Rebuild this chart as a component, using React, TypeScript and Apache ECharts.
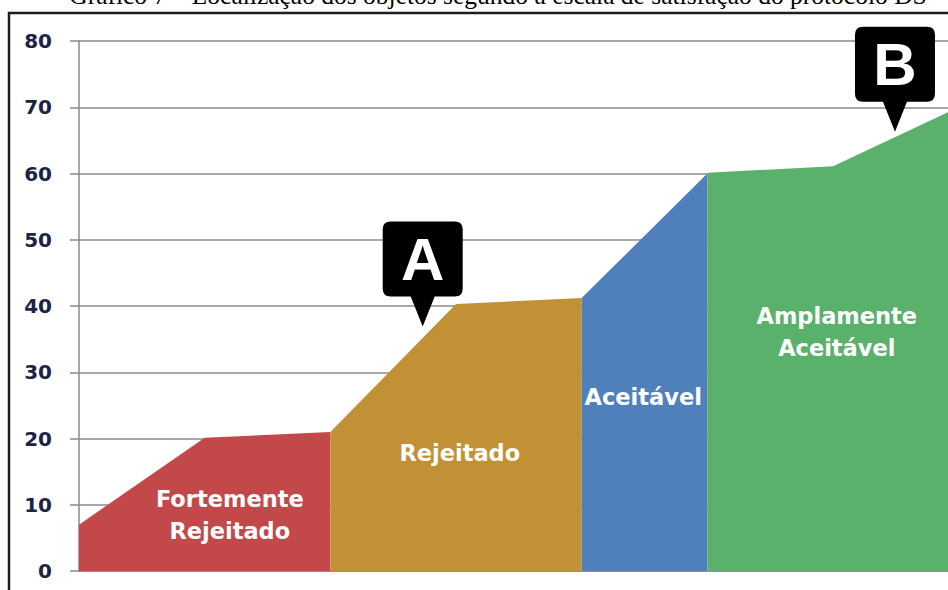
import React, { useEffect, useRef } from "react";
import * as echarts from "echarts";

const titleText =
  "Gráfico 7 – Localização dos objetos segundo a escala de satisfação do protocolo DS";

// Category positions (x) and satisfaction values (y) per zone
const redX = [0, 1, 2];
const redY = [7, 20.1, 21];
const goldX = [2, 3, 4];
const goldY = [21, 40.3, 41.2];
const blueX = [4, 5];
const blueY = [41.2, 60];
const greenX = [5, 6, 7];
const greenY = [60.1, 61.1, 70];

const zoneNames = ["Fortemente\nRejeitado", "Rejeitado", "Aceitável", "Amplamente\nAceitável"];
const zoneColors = ["#c3484a", "#c29136", "#4f80bc", "#5ab16b"];
// label anchor points (data coordinates)
const zoneLabelX = [1.2, 3.03, 4.49, 6.03];
const zoneLabelY = [8.5, 17.8, 26.2, 36.1];

const markerNames = ["A", "B"];
const markerX = [2.735, 6.493];
const markerY = [36.9, 66.3];

const yMin = 0;
const yMax = 80;
const yInterval = 10;
const xMax = 6.915;

const calloutPath =
  "path://M8,0 H72 Q80,0 80,8 V67 Q80,75 72,75 H52 L40,105 L28,75 H8 Q0,75 0,67 V8 Q0,0 8,0 Z";

export default function App() {
  const ref = useRef<HTMLDivElement>(null);

  useEffect(() => {
    if (!ref.current) return;
    const chart = echarts.init(ref.current, null, { renderer: "svg" });

    const zip = (xs: number[], ys: number[]) => xs.map((x, i) => [x, ys[i]]);
    const zones = [zip(redX, redY), zip(goldX, goldY), zip(blueX, blueY), zip(greenX, greenY)];

    const series: any[] = zones.map((data, i) => ({
      type: "line",
      data,
      showSymbol: false,
      symbol: "none",
      lineStyle: { width: 0 },
      areaStyle: { color: zoneColors[i], opacity: 1 },
      itemStyle: { color: zoneColors[i] },
      silent: true,
      z: 2,
      markPoint: {
        silent: true,
        symbol: "circle",
        symbolSize: 0,
        data: [
          {
            coord: [zoneLabelX[i], zoneLabelY[i]],
            value: zoneNames[i],
            label: {
              show: true,
              position: "inside",
              formatter: zoneNames[i],
              color: "#ffffff",
              fontFamily: "DejaVu Sans",
              fontWeight: "bold",
              fontSize: 22.5,
              lineHeight: 32,
              align: "center",
            },
          },
        ],
      },
    }));

    series.push({
      type: "line",
      data: [],
      silent: true,
      markPoint: {
        silent: true,
        symbol: calloutPath,
        symbolSize: [80, 105],
        symbolOffset: [0, -52.5],
        itemStyle: { color: "#000000" },
        z: 10,
        data: markerNames.map((n, i) => ({
          coord: [markerX[i], markerY[i]],
          value: n,
          label: {
            show: true,
            position: "inside",
            formatter: n,
            offset: [0, -15],
            color: "#ffffff",
            fontFamily: "Liberation Sans",
            fontWeight: "bold",
            fontSize: 60,
          },
        })),
      },
    });

    chart.setOption({
      animation: false,
      backgroundColor: "#ffffff",
      grid: {
        left: 79,
        right: 0,
        top: 41,
        bottom: 19,
        containLabel: false,
        outerBoundsMode: "none",
      },
      xAxis: {
        type: "value",
        min: 0,
        max: xMax,
        axisLine: { show: true, lineStyle: { color: "#8a8a8a", width: 1.5 } },
        axisTick: { show: false },
        axisLabel: { show: false },
        splitLine: { show: false },
      },
      yAxis: {
        type: "value",
        min: yMin,
        max: yMax,
        interval: yInterval,
        axisLine: { show: true, lineStyle: { color: "#8a8a8a", width: 1.5 } },
        axisTick: { show: true, length: 9, lineStyle: { color: "#8a8a8a", width: 1.5 } },
        axisLabel: {
          margin: 27,
          color: "#1b2346",
          fontFamily: "DejaVu Sans",
          fontWeight: "bold",
          fontSize: 20,
        },
        splitLine: { show: true, lineStyle: { color: "#8a8a8a", width: 1.5 } },
      },
      graphic: [
        {
          type: "text",
          x: 498,
          y: -5,
          silent: true,
          style: {
            text: titleText,
            fill: "#000000",
            font: "25.5px 'Liberation Serif'",
            align: "center",
            verticalAlign: "middle",
          },
        },
        {
          type: "rect",
          silent: true,
          shape: { x: 9, y: 13, width: 1200, height: 1200 },
          style: { fill: "none", stroke: "#1e1e1e", lineWidth: 2.5 },
          z: 100,
        },
      ],
      series,
    });

    return () => chart.dispose();
  }, []);

  return (
    <div
      ref={ref}
      style={{ position: "absolute", left: 0, top: 0, width: 948, height: 590, background: "#fff" }}
    />
  );
}
